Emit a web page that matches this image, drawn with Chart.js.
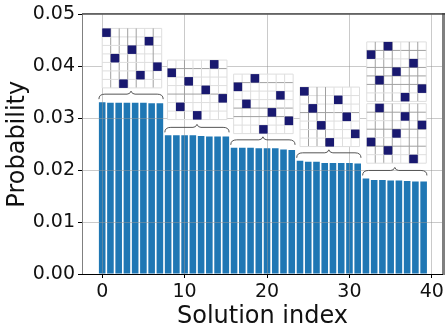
<!DOCTYPE html>
<html lang="en">
<head>
<meta charset="UTF-8">
<title>Solution probabilities</title>
<style>
  html, body { margin: 0; padding: 0; background: #fff; }
  canvas { display: block; }
</style>
</head>
<body>
<canvas id="bar" width="448" height="332"></canvas>
<script src="https://cdn.jsdelivr.net/npm/chart.js"></script>
<script>
// DATA =====================================
const solutionIndex = [0, 1, 2, 3, 4, 5, 6, 7, 8, 9, 10, 11, 12, 13, 14, 15, 16, 17, 18, 19,
  20, 21, 22, 23, 24, 25, 26, 27, 28, 29, 30, 31, 32, 33, 34, 35, 36, 37, 38, 39];
const probability = [
  0.0331, 0.0330, 0.0330, 0.0330, 0.0330, 0.0330, 0.0329, 0.0329,
  0.0267, 0.0267, 0.0267, 0.0267, 0.0266, 0.0265, 0.0265, 0.0265,
  0.0243, 0.0243, 0.0243, 0.0242, 0.0242, 0.0242, 0.0240, 0.0239,
  0.0218, 0.0216, 0.0216, 0.0214, 0.0214, 0.0214, 0.0214, 0.0213,
  0.0184, 0.0181, 0.0181, 0.0180, 0.0180, 0.0179, 0.0178, 0.0178
];
const xTickStep = 10;
const yTickStep = 0.01;

// first and last bar under each brace
const groupFirst = [0, 8, 16, 24, 32];
const groupLast = [7, 15, 23, 31, 39];

// queen column for each row, one list per board
const boardQueens = [
  [0, 5, 3, 1, 6, 4, 2],
  [5, 0, 2, 4, 6, 1, 3],
  [2, 0, 5, 1, 4, 6, 3],
  [0, 4, 1, 5, 2, 6, 3],
  [2, 0, 5, 3, 1, 6, 4],
  [1, 4, 6, 3, 0, 2, 5]
];
// where each board sits, left edge in solution index, top edge in probability
const boardLeft = [0, 7.92, 15.95, 24, 32.1, 32.1];
const boardTop = [0.0473, 0.0412, 0.0385, 0.0360, 0.0447, 0.0328];
// which inner grid lines come out dark after the downsampling
const boardDarkV = [[1, 2, 3, 4, 6], [2], [], [1, 2, 3], [1, 2, 3, 5, 6], [1, 2, 3, 5, 6]];
const boardDarkH = [[], [1, 4], [1, 4, 5], [3], [1, 3, 4, 5], [1, 3, 5]];

const boardSize = 59.5;
const navy = '#191970';

function drawBoard(ctx, left, top, queens, darkV, darkH) {
  const cell = boardSize / 7;
  ctx.fillStyle = '#fff';
  ctx.fillRect(left, top, boardSize, boardSize);
  for (let i = 0; i <= 7; i++) {
    ctx.strokeStyle = darkV.includes(i) ? '#a0a0a0' : '#dedede';
    ctx.beginPath();
    ctx.moveTo(left + i * cell, top);
    ctx.lineTo(left + i * cell, top + boardSize);
    ctx.stroke();
    ctx.strokeStyle = darkH.includes(i) ? '#a0a0a0' : '#dedede';
    ctx.beginPath();
    ctx.moveTo(left, top + i * cell);
    ctx.lineTo(left + boardSize, top + i * cell);
    ctx.stroke();
  }
  ctx.fillStyle = navy;
  queens.forEach((col, row) => {
    ctx.fillRect(left + col * cell, top + row * cell, cell, cell);
  });
}

function drawBrace(ctx, x0, x1, barTop) {
  const yEnd = barTop - 3;
  const yLine = barTop - 8;
  const yTip = barTop - 11;
  const mid = (x0 + x1) / 2;
  ctx.strokeStyle = '#555';
  ctx.lineWidth = 1;
  ctx.beginPath();
  ctx.moveTo(x0, yEnd);
  ctx.quadraticCurveTo(x0, yLine, x0 + 6, yLine);
  ctx.lineTo(mid - 4, yLine);
  ctx.quadraticCurveTo(mid - 1, yLine, mid, yTip);
  ctx.quadraticCurveTo(mid + 1, yLine, mid + 4, yLine);
  ctx.lineTo(x1 - 6, yLine);
  ctx.quadraticCurveTo(x1, yLine, x1, yEnd);
  ctx.stroke();
}

function drawSpine(ctx, color, width, x0, y0, x1, y1) {
  ctx.strokeStyle = color;
  ctx.lineWidth = width;
  ctx.beginPath();
  ctx.moveTo(x0, y0);
  ctx.lineTo(x1, y1);
  ctx.stroke();
}

// boards, braces and the spines, the axis border option ended up on the wrong edge
const overlay = {
  id: 'overlay',
  afterDraw(chart) {
    const { ctx, chartArea: { left, right, top, bottom }, scales: { x, y } } = chart;
    ctx.save();
    ctx.lineWidth = 1;
    boardQueens.forEach((queens, i) => {
      drawBoard(ctx, x.getPixelForValue(boardLeft[i]), y.getPixelForValue(boardTop[i]),
        queens, boardDarkV[i], boardDarkH[i]);
    });
    groupFirst.forEach((first, i) => {
      drawBrace(ctx, x.getPixelForValue(first - 0.4), x.getPixelForValue(groupLast[i] + 0.4),
        y.getPixelForValue(probability[first]));
    });
    drawSpine(ctx, '#808080', 1, left + 0.5, top, left + 0.5, bottom);
    drawSpine(ctx, '#808080', 3, right + 0.5, top - 1, right + 0.5, bottom + 1);
    drawSpine(ctx, '#000', 1, left, top - 0.5, right + 2, top - 0.5);
    drawSpine(ctx, '#000', 1, left - 4, bottom + 0.5, right, bottom + 0.5);
    ctx.restore();
  }
};

const tickFont = { family: 'DejaVu Sans', size: 19 };
const titleFont = { family: 'DejaVu Sans', size: 24 };
const gridColor = 'rgba(150, 150, 150, 0.5)';

new Chart(document.getElementById('bar'), {
  type: 'bar',
  data: {
    datasets: [{
      label: 'Probability',
      data: solutionIndex.map((s, i) => ({ x: s, y: probability[i] })),
      backgroundColor: '#1f77b4',
      categoryPercentage: 1,
      barPercentage: 0.8,
      grouped: false
    }]
  },
  options: {
    responsive: false,
    animation: false,
    layout: { padding: { top: 12, right: 5 } },
    plugins: { legend: { display: false }, tooltip: { enabled: false } },
    scales: {
      x: {
        type: 'linear',
        min: -2.45,
        max: 41.35,
        offset: false,
        afterFit: (scale) => { scale.height = 58; },
        ticks: {
          stepSize: xTickStep,
          includeBounds: false,
          maxRotation: 0,
          padding: 3,
          color: '#111',
          font: tickFont
        },
        grid: { color: gridColor, z: 1, tickColor: '#000', tickLength: 4, offset: false },
        border: { display: false },
        title: {
          display: true,
          text: 'Solution index',
          color: '#111',
          font: titleFont,
          padding: { top: 0, bottom: 1 }
        }
      },
      y: {
        min: 0,
        max: 0.05,
        afterFit: (scale) => { scale.width = 82; },
        ticks: {
          stepSize: yTickStep,
          padding: 3,
          color: '#111',
          font: tickFont,
          callback: (value) => value.toFixed(2)
        },
        grid: { color: gridColor, z: 1, tickColor: '#000', tickLength: 4 },
        border: { display: false },
        title: {
          display: true,
          text: 'Probability',
          color: '#111',
          font: titleFont,
          padding: { top: 3, bottom: 0 }
        }
      }
    }
  },
  plugins: [overlay]
});
</script>
</body>
</html>
